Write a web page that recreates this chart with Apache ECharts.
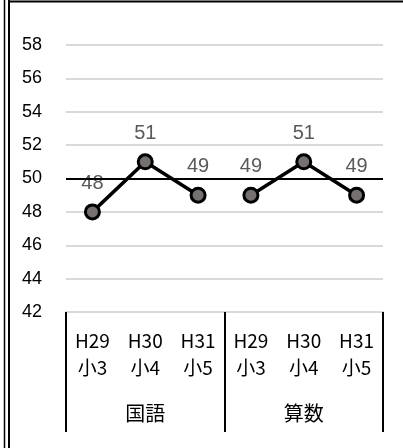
<!DOCTYPE html>
<html>
<head>
<meta charset="utf-8">
<script src="https://cdn.jsdelivr.net/npm/echarts@6/dist/echarts.min.js"></script>
<style>
html,body{margin:0;padding:0;background:#fff;}
#c{width:403px;height:448px;}
</style>
</head>
<body>
<div id="c"></div>
<script>
// ---- data ----
var years = ['H29', 'H30', 'H31', 'H29', 'H30', 'H31'];
var grades = ['小3', '小4', '小5', '小3', '小4', '小5'];
var subjects = ['国語', '算数'];
var kokugo = [48, 51, 49];
var sansu = [49, 51, 49];
var referenceValue = 50;
var yMin = 42, yMax = 58, yStep = 2;

// ---- build ----
var categories = years.map(function (y, i) { return y + '\n' + grades[i]; });
var kokugoData = kokugo.concat(['-', '-', '-']);
var sansuData = ['-', '-', '-'].concat(sansu);

var chart = echarts.init(document.getElementById('c'));
var gridPos = { left: 66, right: 20, top: 45, bottom: 136 };
var labelFont = 'Liberation Sans, Arial, sans-serif';
var cjkFont = '"Noto Sans CJK JP", sans-serif';

function lineSeries(data) {
  return {
    type: 'line',
    xAxisIndex: 0, yAxisIndex: 0,
    data: data,
    symbol: 'circle',
    symbolSize: 14,
    lineStyle: { color: '#000', width: 3.5 },
    itemStyle: { color: '#767171', borderColor: '#000', borderWidth: 3 },
    label: {
      show: true, position: 'top', distance: 10,
      color: '#595959', fontSize: 20, fontFamily: labelFont
    },
    animation: false
  };
}

var s0 = lineSeries(kokugoData);
s0.markLine = {
  silent: true, symbol: 'none', animation: false,
  label: { show: false },
  lineStyle: { color: '#000', width: 2, type: 'solid' },
  data: [{ yAxis: referenceValue }]
};
s0.z = 3;
var s1 = lineSeries(sansuData);
s1.z = 3;

chart.setOption({
  animation: false,
  grid: [
    Object.assign({}, gridPos),
    Object.assign({}, gridPos)
  ],
  xAxis: [
    {
      type: 'category', gridIndex: 0, data: categories,
      boundaryGap: true,
      axisLine: { show: true, lineStyle: { color: '#d9d9d9', width: 2 } },
      axisTick: { show: false },
      axisLabel: {
        interval: 0, margin: 15, color: '#000',
        fontSize: 19, lineHeight: 27, fontFamily: cjkFont
      },
      splitLine: { show: false }
    },
    {
      type: 'category', gridIndex: 1, data: subjects,
      position: 'bottom',
      boundaryGap: true,
      axisLine: { show: false },
      axisTick: { show: true, inside: false, length: 120, lineStyle: { color: '#000', width: 2 } },
      axisLabel: {
        interval: 0, margin: 91, color: '#000',
        fontSize: 20, fontFamily: cjkFont
      },
      splitLine: { show: false }
    }
  ],
  yAxis: [
    {
      type: 'value', gridIndex: 0,
      min: yMin, max: yMax, interval: yStep,
      axisLine: { show: false },
      axisTick: { show: false },
      axisLabel: { color: '#000', fontSize: 18, margin: 24, fontFamily: labelFont },
      splitLine: { show: true, lineStyle: { color: '#d9d9d9', width: 2 } }
    },
    { type: 'value', gridIndex: 1, show: false, min: 0, max: 1 }
  ],
  graphic: [
    { type: 'line', shape: { x1: 8, y1: 1.5, x2: 403, y2: 1.5 }, style: { stroke: '#000', lineWidth: 2 }, silent: true },
    { type: 'line', shape: { x1: 4.5, y1: 0, x2: 4.5, y2: 448 }, style: { stroke: '#000', lineWidth: 1.5 }, silent: true },
    { type: 'line', shape: { x1: 9, y1: 0, x2: 9, y2: 448 }, style: { stroke: '#000', lineWidth: 2 }, silent: true }
  ],
  series: [s0, s1]
});
</script>
</body>
</html>
